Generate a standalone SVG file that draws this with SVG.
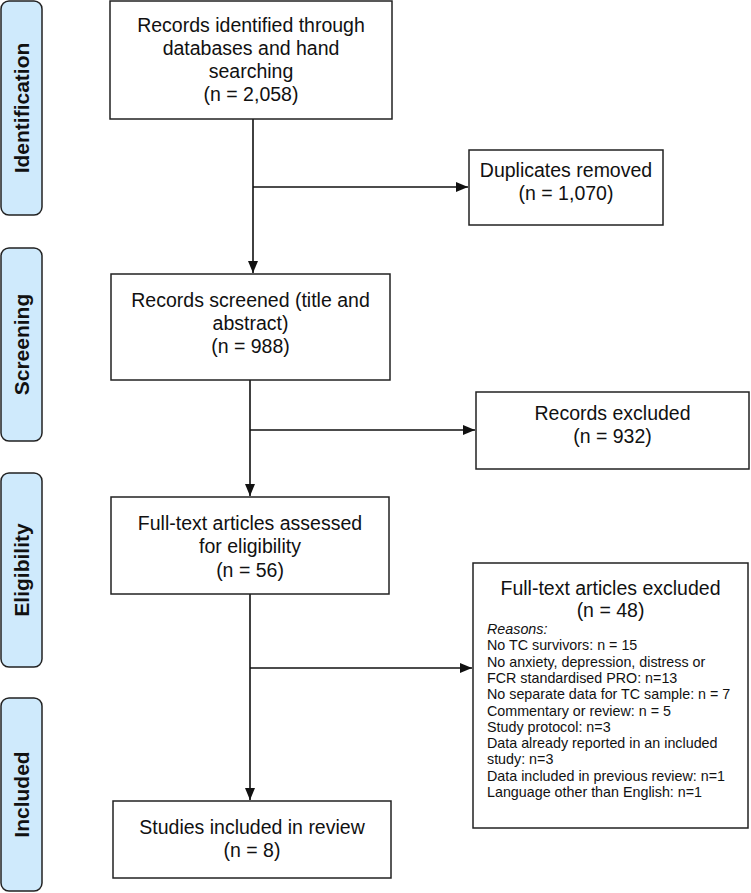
<svg xmlns="http://www.w3.org/2000/svg" width="751" height="893" viewBox="0 0 751 893">
<style>
.lab{fill:#cfeafc;stroke:#222;stroke-width:1.5}
.lt{font-family:"Liberation Sans",Arial,sans-serif;font-weight:bold;font-size:21px;fill:#111;text-anchor:middle}
.box{fill:#fff;stroke:#222;stroke-width:1.5}
.t{font-family:"Liberation Sans",Arial,sans-serif;font-size:19.5px;fill:#111;text-anchor:middle}
.s{font-family:"Liberation Sans",Arial,sans-serif;font-size:14.3px;fill:#111}
.ln{fill:none;stroke:#111;stroke-width:1.6}
</style>
<defs>
<marker id="ah" markerWidth="12" markerHeight="10" refX="12" refY="5" orient="auto" markerUnits="userSpaceOnUse">
<path d="M0,0 L12,5 L0,10 Z" fill="#111"/>
</marker>
</defs>
<g id="label-identification"><rect class="lab" x="1" y="1" width="41" height="214" rx="8"/><text class="lt" transform="translate(29,108) rotate(-90)">Identification</text></g>
<g id="label-screening"><rect class="lab" x="1" y="248" width="41" height="193" rx="8"/><text class="lt" transform="translate(29,344.5) rotate(-90)">Screening</text></g>
<g id="label-eligibility"><rect class="lab" x="1" y="473" width="41" height="194" rx="8"/><text class="lt" transform="translate(29,570) rotate(-90)">Eligibility</text></g>
<g id="label-included"><rect class="lab" x="1" y="698" width="41" height="193" rx="8"/><text class="lt" transform="translate(29,794.5) rotate(-90)">Included</text></g>

<g id="connectors">
<path class="ln" d="M253,119 V273" marker-end="url(#ah)"/>
<path class="ln" d="M253,187 H468" marker-end="url(#ah)"/>
<path class="ln" d="M250,380 V496" marker-end="url(#ah)"/>
<path class="ln" d="M250,430 H475" marker-end="url(#ah)"/>
<path class="ln" d="M250,594 V800" marker-end="url(#ah)"/>
<path class="ln" d="M250,668 H472" marker-end="url(#ah)"/>
</g>

<g id="node-identified"><rect class="box" x="110" y="1" width="282" height="118"/>
<text class="t" x="251" y="32">Records identified through</text>
<text class="t" x="251" y="55">databases and hand</text>
<text class="t" x="251" y="78">searching</text>
<text class="t" x="251" y="101">(n = 2,058)</text></g>

<g id="node-duplicates"><rect class="box" x="469" y="150" width="194" height="75"/>
<text class="t" x="566" y="177">Duplicates removed</text>
<text class="t" x="566" y="200">(n = 1,070)</text></g>

<g id="node-screened"><rect class="box" x="111" y="274" width="279" height="106"/>
<text class="t" x="250.5" y="307">Records screened (title and</text>
<text class="t" x="250.5" y="330">abstract)</text>
<text class="t" x="250.5" y="353">(n = 988)</text></g>

<g id="node-records-excluded"><rect class="box" x="476" y="392" width="273" height="77"/>
<text class="t" x="612.5" y="420">Records excluded</text>
<text class="t" x="612.5" y="443">(n = 932)</text></g>

<g id="node-fulltext"><rect class="box" x="111" y="497" width="278" height="97"/>
<text class="t" x="250" y="530">Full-text articles assessed</text>
<text class="t" x="250" y="553">for eligibility</text>
<text class="t" x="250" y="577">(n = 56)</text></g>

<g id="node-fulltext-excluded"><rect class="box" x="473" y="563" width="275" height="265"/>
<text class="t" x="610.5" y="595">Full-text articles excluded</text>
<text class="t" x="610.5" y="617">(n = 48)</text>
<text class="s" x="487" y="634" font-style="italic">Reasons:</text>
<text class="s" x="487" y="650.3">No TC survivors: n = 15</text>
<text class="s" x="487" y="666.6">No anxiety, depression, distress or</text>
<text class="s" x="487" y="682.9">FCR standardised PRO: n=13</text>
<text class="s" x="487" y="699.2">No separate data for TC sample: n = 7</text>
<text class="s" x="487" y="715.5">Commentary or review: n = 5</text>
<text class="s" x="487" y="731.8">Study protocol: n=3</text>
<text class="s" x="487" y="748.1">Data already reported in an included</text>
<text class="s" x="487" y="764.4">study: n=3</text>
<text class="s" x="487" y="780.7">Data included in previous review: n=1</text>
<text class="s" x="487" y="797">Language other than English: n=1</text></g>

<g id="node-included"><rect class="box" x="113" y="801" width="278" height="77"/>
<text class="t" x="252" y="834">Studies included in review</text>
<text class="t" x="252" y="857">(n = 8)</text></g>
</svg>
